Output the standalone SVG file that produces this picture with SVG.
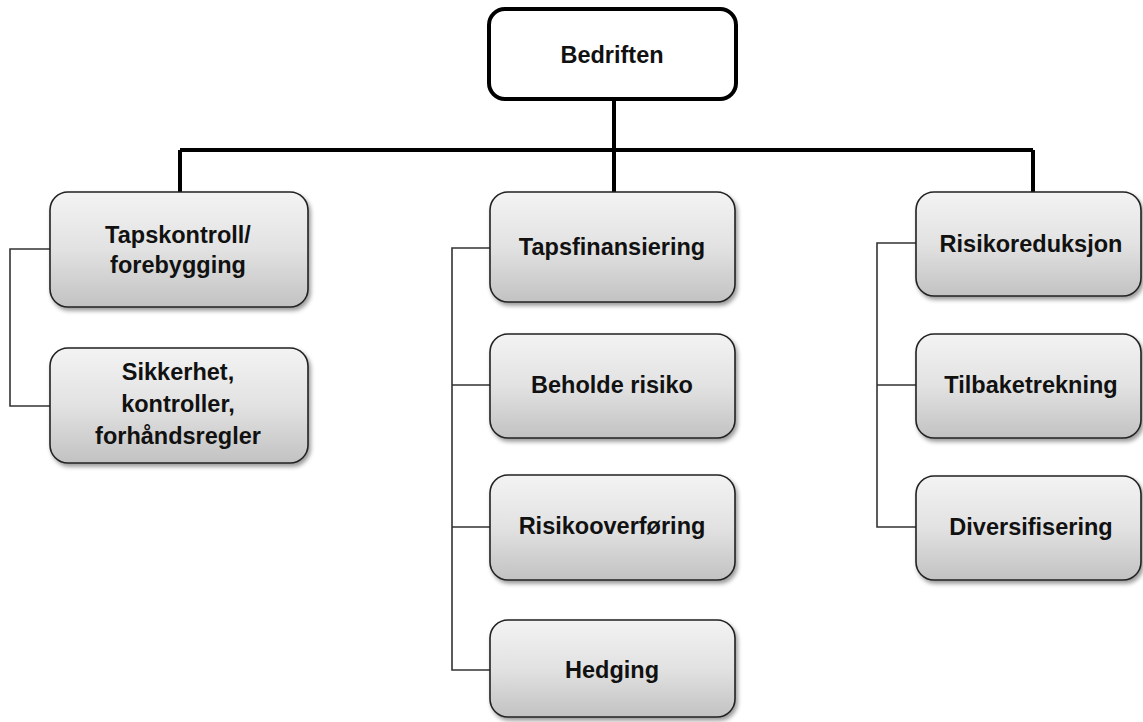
<svg xmlns="http://www.w3.org/2000/svg" width="1143" height="722" viewBox="0 0 1143 722">
<defs>
<linearGradient id="g" x1="0" y1="0" x2="0" y2="1">
<stop offset="0" stop-color="#f3f3f3"/>
<stop offset="0.5" stop-color="#e2e2e2"/>
<stop offset="1" stop-color="#c2c2c2"/>
</linearGradient>
<filter id="sh" x="-10%" y="-10%" width="125%" height="130%">
<feDropShadow dx="2" dy="3" stdDeviation="2" flood-color="#000" flood-opacity="0.4"/>
</filter>
<style>
.box{fill:url(#g);stroke:#222;stroke-width:1.6;filter:url(#sh)}
.top{fill:#fff;stroke:#000;stroke-width:4}
.t{font-family:"Liberation Sans",Arial,sans-serif;font-weight:bold;font-size:23.5px;fill:#111;text-anchor:middle}
.main{fill:none;stroke:#000;stroke-width:4}
.sub{fill:none;stroke:#333;stroke-width:1.6}
</style>
</defs>
<rect width="1143" height="722" fill="#fff"/>
<g id="connectors">
<path class="main" d="M614 100V192M180 150H1033M180 150V192M1033 150V192"/>
<path class="sub" d="M50 249H10V406H50"/>
<path class="sub" d="M490 248H452V670H490M452 385H490M452 527H490"/>
<path class="sub" d="M916 243H877V527H916M877 385H916"/>
</g>
<g id="bedriften"><rect class="top" x="489" y="9" width="247" height="90" rx="16"/><text class="t" x="612" y="63">Bedriften</text></g>
<g id="tapskontroll"><rect class="box" x="50" y="192" width="258" height="115" rx="18"/><text class="t" x="178" y="243">Tapskontroll/</text><text class="t" x="178" y="273">forebygging</text></g>
<g id="sikkerhet"><rect class="box" x="50" y="348" width="258" height="115" rx="18"/><text class="t" x="178" y="380">Sikkerhet,</text><text class="t" x="178" y="412">kontroller,</text><text class="t" x="178" y="444">forhåndsregler</text></g>
<g id="tapsfinansiering"><rect class="box" x="490" y="192" width="245" height="110" rx="18"/><text class="t" x="612" y="255">Tapsfinansiering</text></g>
<g id="beholde"><rect class="box" x="490" y="334" width="245" height="104" rx="18"/><text class="t" x="612" y="393">Beholde risiko</text></g>
<g id="risikooverforing"><rect class="box" x="490" y="475" width="245" height="105" rx="18"/><text class="t" x="612" y="534">Risikooverføring</text></g>
<g id="hedging"><rect class="box" x="490" y="620" width="245" height="97" rx="18"/><text class="t" x="612" y="678">Hedging</text></g>
<g id="risikoreduksjon"><rect class="box" x="916" y="192" width="225" height="104" rx="18"/><text class="t" x="1031" y="252">Risikoreduksjon</text></g>
<g id="tilbaketrekning"><rect class="box" x="916" y="334" width="225" height="104" rx="18"/><text class="t" x="1031" y="393">Tilbaketrekning</text></g>
<g id="diversifisering"><rect class="box" x="916" y="476" width="225" height="104" rx="18"/><text class="t" x="1031" y="535">Diversifisering</text></g>
</svg>
